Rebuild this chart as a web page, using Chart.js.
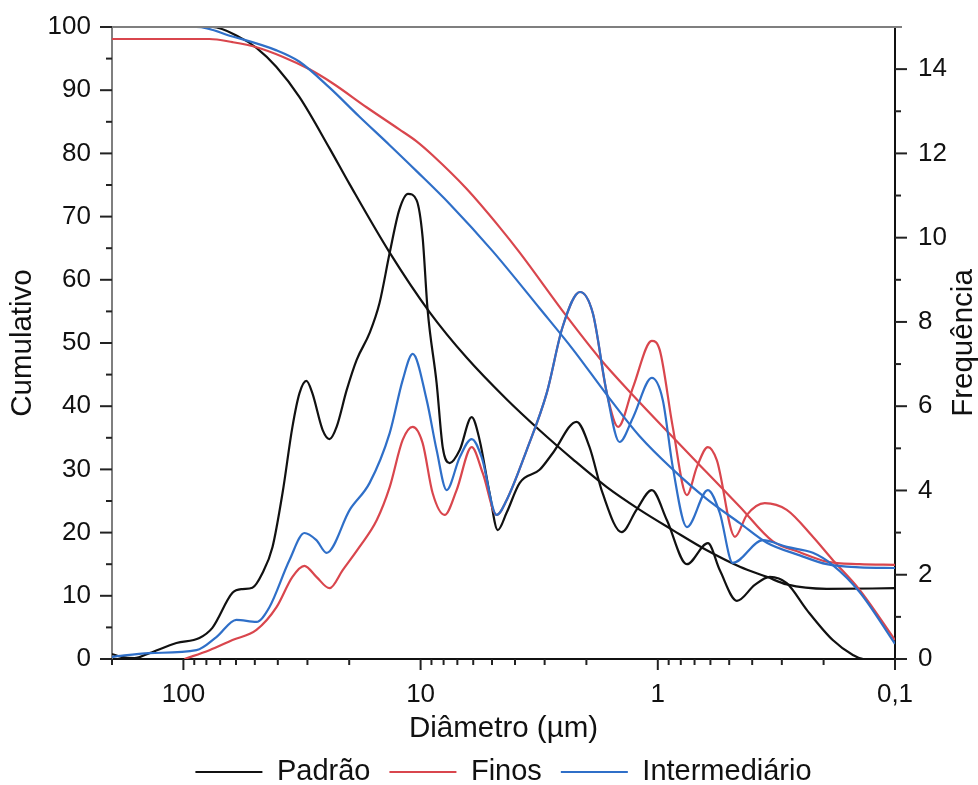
<!DOCTYPE html>
<html>
<head>
<meta charset="utf-8">
<title>Distribuição granulométrica</title>
<script src="https://cdn.jsdelivr.net/npm/chart.js@4.4.1/dist/chart.umd.min.js"></script>
<style>
    html, body { margin: 0; padding: 0; background: #fff; }
    #wrap { width: 978px; height: 785px; }
</style>
</head>
<body>
<div id="wrap"><canvas id="chart" width="978" height="785"></canvas></div>
<script>
// ..frequency curves (right axis), diameters in µm
const padraoFreqDiam = [200, 182.6, 161, 139, 107, 85.6, 75.5, 62.1, 56.4, 51.2, 46.4, 42.1, 38.2, 34.7, 32.4, 30.3, 28.6, 25.9, 24.2, 22.6, 20.5, 18.6, 16.4, 14.9, 13.5, 12.3, 11.3, 10.4, 9.81, 9.34, 8.56, 8.07, 7.54, 6.84, 6.09, 5.64, 5.12, 4.73, 4.34, 3.82, 3.15, 2.77, 2.20, 1.94, 1.71, 1.42, 1.23, 1.06, 0.916, 0.754, 0.615, 0.548, 0.464, 0.390, 0.337, 0.286, 0.235, 0.183, 0.150, 0.136, 0.1];
const padraoFreq = [0.12, 0.05, 0.02, 0.14, 0.38, 0.50, 0.74, 1.57, 1.66, 1.69, 2.04, 2.66, 3.94, 5.51, 6.31, 6.60, 6.31, 5.44, 5.22, 5.51, 6.38, 7.10, 7.74, 8.45, 9.64, 10.66, 11.04, 10.89, 10.02, 8.28, 6.55, 5.03, 4.65, 4.96, 5.74, 5.20, 3.94, 3.06, 3.47, 4.18, 4.49, 4.89, 5.63, 5.03, 3.94, 3.01, 3.54, 4.01, 3.30, 2.25, 2.75, 2.11, 1.38, 1.76, 1.95, 1.80, 1.16, 0.45, 0.09, 0, 0];

const finosFreqDiam = [99.0, 77.7, 62.1, 49.2, 40.5, 34.7, 30.9, 27.5, 24.2, 21.3, 18.1, 15.3, 13.5, 11.9, 10.8, 9.81, 8.90, 7.92, 7.05, 6.09, 5.47, 4.78, 4.34, 3.57, 2.94, 2.52, 2.13, 1.88, 1.64, 1.47, 1.27, 1.06, 0.981, 0.865, 0.754, 0.684, 0.615, 0.564, 0.473, 0.421, 0.354, 0.286, 0.222, 0.183, 0.141, 0.1];
const finosFreq = [0, 0.21, 0.45, 0.69, 1.23, 1.95, 2.21, 1.95, 1.68, 2.11, 2.66, 3.30, 4.08, 5.20, 5.51, 5.13, 3.94, 3.42, 4.01, 5.03, 4.41, 3.42, 3.77, 4.96, 6.31, 7.88, 8.71, 8.21, 6.31, 5.51, 6.46, 7.55, 7.33, 5.51, 3.89, 4.56, 5.03, 4.72, 2.90, 3.42, 3.70, 3.54, 2.90, 2.35, 1.64, 0.45];

const interFreqDiam = [200, 139, 88.1, 72.6, 59.8, 49.2, 43.4, 35.7, 30.9, 27.5, 24.9, 19.9, 16.4, 13.5, 11.9, 10.8, 9.43, 8.56, 7.77, 6.84, 6.09, 5.53, 4.78, 4.34, 3.57, 2.94, 2.52, 2.13, 1.88, 1.64, 1.45, 1.27, 1.06, 0.953, 0.865, 0.754, 0.615, 0.548, 0.483, 0.361, 0.286, 0.222, 0.183, 0.141, 0.1];
const interFreq = [0.05, 0.14, 0.21, 0.52, 0.93, 0.88, 1.23, 2.35, 2.99, 2.82, 2.52, 3.54, 4.18, 5.36, 6.62, 7.24, 6.15, 4.96, 4.01, 4.79, 5.22, 4.79, 3.42, 3.77, 4.96, 6.31, 7.88, 8.71, 8.21, 6.31, 5.15, 5.74, 6.67, 6.15, 4.56, 3.13, 4.01, 3.47, 2.28, 2.82, 2.66, 2.52, 2.23, 1.59, 0.36];

// ..cumulative curves (left axis)
const padraoCumDiam = [200, 75.5, 58.0, 49.2, 40.6, 32.4, 24.2, 19.9, 13.5, 9.17, 6.40, 4.34, 3.15, 2.28, 1.64, 1.19, 0.865, 0.621, 0.451, 0.347, 0.286, 0.194, 0.1];
const padraoCum = [100, 100, 98.4, 96.7, 93.7, 88.9, 80.8, 75.1, 64.3, 54.9, 47.7, 41.1, 36.2, 31.6, 27.2, 23.6, 20.4, 17.2, 14.6, 13.0, 11.8, 11.1, 11.2];

const finosCumDiam = [200, 77.7, 62.1, 49.2, 38.2, 29.4, 23.5, 16.9, 12.3, 10.4, 8.90, 6.40, 4.64, 3.82, 2.42, 1.76, 1.27, 0.890, 0.621, 0.451, 0.327, 0.252, 0.194, 0.141, 0.1];
const finosCum = [98.1, 98.1, 97.6, 96.8, 95.3, 93.3, 91.1, 87.3, 83.8, 81.9, 79.7, 74.4, 68.3, 64.3, 54.2, 47.6, 41.7, 35.6, 29.5, 24.1, 18.6, 16.9, 15.4, 15.0, 14.9];

const interCumDiam = [200, 88.1, 62.1, 40.5, 32.4, 24.2, 18.1, 13.5, 10.4, 7.54, 4.96, 3.15, 2.28, 1.64, 1.19, 0.865, 0.621, 0.451, 0.347, 0.252, 0.194, 0.141, 0.1];
const interCum = [100, 100, 98.5, 96.3, 94.5, 90.4, 85.8, 81.3, 77.2, 72.0, 64.5, 55.5, 49.0, 41.8, 35.2, 30.0, 25.3, 21.5, 18.4, 16.4, 15.0, 14.5, 14.4];

// ..axis ticks
const xMajorTicks = [100, 10, 1, 0.1];
const yLeftTicks = [0, 10, 20, 30, 40, 50, 60, 70, 80, 90, 100];
const yRightTicks = [0, 2, 4, 6, 8, 10, 12, 14];

const seriesNames = ['Padrão', 'Finos', 'Intermediário'];
const seriesColors = ['#111111', '#d9464d', '#2f6fc8'];
const rightTitle = 'Frequência';

const fontFamily = "'Liberation Sans', Arial, Helvetica, sans-serif";
Chart.defaults.font.family = fontFamily;
Chart.defaults.color = '#111';

function toPoints(xs, ys) {
    return xs.map((x, i) => ({ x: x, y: ys[i] }));
}

function makeDataset(idx, xs, ys, axis) {
    return {
        label: seriesNames[idx],
        data: toPoints(xs, ys),
        yAxisID: axis,
        borderColor: seriesColors[idx],
        backgroundColor: seriesColors[idx],
        borderWidth: 2.2,
        pointRadius: 0,
        fill: false,
        cubicInterpolationMode: 'monotone',
        order: 2 - idx
    };
}

//..tick marks, top frame and right title
const axisDecor = {
    id: 'axisDecor',
    afterDraw(chart) {
        const { ctx, chartArea: area } = chart;
        const { x, y, y1 } = chart.scales;
        ctx.save();
        ctx.lineCap = 'butt';

        ctx.strokeStyle = '#7f7f7f';
        ctx.lineWidth = 2;
        ctx.beginPath();
        ctx.moveTo(area.left - 1, area.top);
        ctx.lineTo(area.right + 7, area.top);
        ctx.stroke();

        ctx.strokeStyle = '#222';
        for (let e = -1; e <= 2; e++) {
            for (let m = 1; m <= 9; m++) {
                const v = m * Math.pow(10, e);
                if (v < 0.1 - 1e-9 || v > 200 + 1e-9) continue;
                const px = x.getPixelForValue(v);
                const len = m === 1 ? 11 : 6;
                ctx.beginPath();
                ctx.moveTo(px, area.bottom);
                ctx.lineTo(px, area.bottom + len);
                ctx.stroke();
            }
        }

        for (let v = 0; v <= 100; v += 5) {
            const py = y.getPixelForValue(v);
            const len = v % 10 === 0 ? 12 : 6;
            ctx.beginPath();
            ctx.moveTo(area.left, py);
            ctx.lineTo(area.left - len, py);
            ctx.stroke();
        }

        for (let v = 0; v <= 14; v += 1) {
            const py = y1.getPixelForValue(v);
            const len = v % 2 === 0 ? 12 : 6;
            ctx.beginPath();
            ctx.moveTo(area.right, py);
            ctx.lineTo(area.right + len, py);
            ctx.stroke();
        }

        ctx.translate(964, (area.top + area.bottom) / 2);
        ctx.rotate(-Math.PI / 2);
        ctx.font = '29.5px ' + fontFamily;
        ctx.fillStyle = '#111';
        ctx.textAlign = 'center';
        ctx.textBaseline = 'middle';
        ctx.fillText(rightTitle, 0, 0);
        ctx.restore();
    }
};

function xLabel(value) {
    const hit = xMajorTicks.find(t => Math.abs(t - value) < 1e-9);
    if (hit === undefined) return '';
    return hit >= 1 ? String(hit) : String(hit).replace('.', ',');
}

new Chart(document.getElementById('chart'), {
    type: 'line',
    data: {
        datasets: [
            makeDataset(0, padraoFreqDiam, padraoFreq, 'y1'),
            makeDataset(1, finosFreqDiam, finosFreq, 'y1'),
            makeDataset(2, interFreqDiam, interFreq, 'y1'),
            makeDataset(0, padraoCumDiam, padraoCum, 'y'),
            makeDataset(1, finosCumDiam, finosCum, 'y'),
            makeDataset(2, interCumDiam, interCum, 'y')
        ]
    },
    options: {
        responsive: false,
        animation: false,
        layout: { padding: { top: 27, bottom: -11.5, left: 0, right: 0 } },
        scales: {
            x: {
                type: 'logarithmic',
                reverse: true,
                min: 0.1,
                max: 200,
                border: { display: true, color: '#111', width: 2 },
                grid: { display: true, drawOnChartArea: false, drawTicks: true, tickLength: 11, tickColor: 'rgba(0,0,0,0)' },
                ticks: { autoSkip: false, maxRotation: 0, padding: 9, font: { size: 26 }, color: '#111', callback: xLabel },
                title: { display: true, text: 'Diâmetro (µm)', font: { size: 29.5 }, color: '#111', padding: { top: 0, bottom: -8 } },
                afterFit: s => { s.height = 79.5; }
            },
            y: {
                position: 'left',
                min: 0,
                max: 100,
                border: { display: true, color: '#7f7f7f', width: 2 },
                grid: { display: true, drawOnChartArea: false, drawTicks: true, tickLength: 12, tickColor: 'rgba(0,0,0,0)' },
                ticks: { padding: 9, font: { size: 26 }, color: '#111' },
                afterBuildTicks: s => { s.ticks = yLeftTicks.map(v => ({ value: v })); },
                title: { display: true, text: 'Cumulativo', font: { size: 29.5 }, color: '#111', padding: { top: 5.5, bottom: 0 } },
                afterFit: s => { s.width = 112; }
            },
            y1: {
                position: 'right',
                min: 0,
                max: 15,
                border: { display: true, color: '#111', width: 2 },
                grid: { display: true, drawOnChartArea: false, drawTicks: true, tickLength: 12, tickColor: 'rgba(0,0,0,0)' },
                ticks: { padding: 11, font: { size: 26 }, color: '#111' },
                afterBuildTicks: s => { s.ticks = yRightTicks.map(v => ({ value: v })); },
                afterFit: s => { s.width = 83; }
            }
        },
        plugins: {
            tooltip: { enabled: false },
            legend: {
                position: 'bottom',
                fullSize: false,
                labels: {
                    boxWidth: 67,
                    boxHeight: 2,
                    padding: 19,
                    color: '#111',
                    font: { size: 29 },
                    filter: item => item.datasetIndex < 3,
                    sort: (a, b) => a.datasetIndex - b.datasetIndex,
                    generateLabels: chart => Chart.defaults.plugins.legend.labels.generateLabels(chart).map(item => {
                        item.fillStyle = item.strokeStyle;
                        item.lineWidth = 0;
                        return item;
                    })
                }
            }
        }
    },
    plugins: [axisDecor]
});
</script>
</body>
</html>
